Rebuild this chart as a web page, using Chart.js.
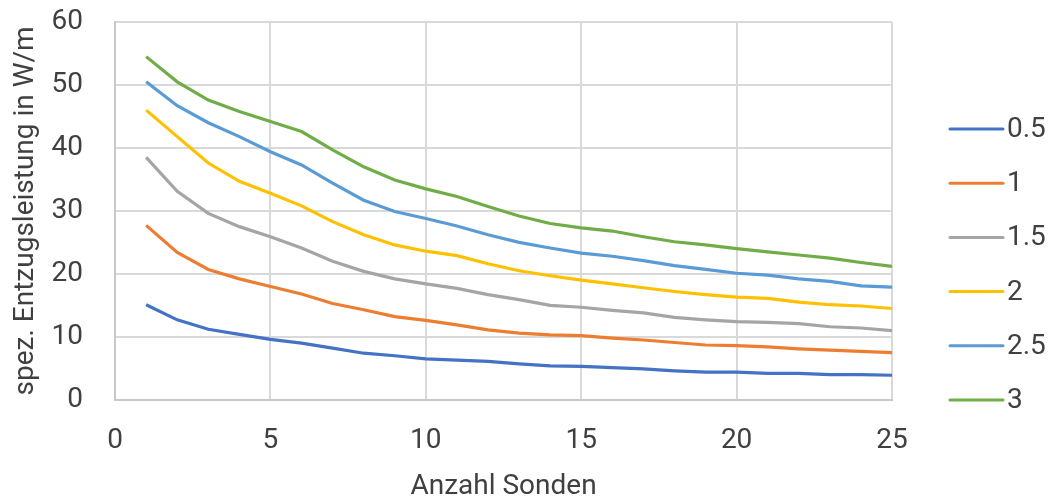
<!DOCTYPE html>
<html>
<head>
<meta charset="utf-8">
<script src="https://cdn.jsdelivr.net/npm/chart.js@4"></script>
<style>
  html, body { margin: 0; padding: 0; background: #fff; }
  #wrap { width: 1056px; height: 504px; }
</style>
</head>
<body>
<div id="wrap"><canvas id="myChart" width="1056" height="504"></canvas></div>
<script>
const sonden = [1,2,3,4,5,6,7,8,9,10,11,12,13,14,15,16,17,18,19,20,21,22,23,24,25];
const seriesNames = ['0.5','1','1.5','2','2.5','3'];
const s05 = [15.1,12.7,11.2,10.4,9.6,9.0,8.2,7.4,7.0,6.5,6.3,6.1,5.7,5.4,5.3,5.1,4.9,4.6,4.4,4.4,4.2,4.2,4.0,4.0,3.9];
const s10 = [27.7,23.4,20.7,19.2,18.0,16.8,15.3,14.3,13.2,12.6,11.9,11.1,10.6,10.3,10.2,9.8,9.5,9.1,8.7,8.6,8.4,8.1,7.9,7.7,7.5];
const s15 = [38.5,33.1,29.6,27.5,25.9,24.1,22.0,20.4,19.2,18.4,17.7,16.7,15.9,15.0,14.7,14.2,13.8,13.1,12.7,12.4,12.3,12.1,11.6,11.4,11.0];
const s20 = [46.0,41.8,37.6,34.7,32.8,30.8,28.3,26.2,24.6,23.6,22.9,21.6,20.5,19.7,19.0,18.4,17.8,17.2,16.7,16.3,16.1,15.5,15.1,14.9,14.5];
const s25 = [50.5,46.7,44.0,41.8,39.4,37.3,34.4,31.7,29.9,28.8,27.6,26.2,25.0,24.1,23.3,22.8,22.1,21.3,20.7,20.1,19.8,19.2,18.8,18.1,17.9];
const s30 = [54.5,50.5,47.6,45.8,44.2,42.6,39.7,37.0,34.9,33.5,32.3,30.7,29.2,28.0,27.3,26.8,25.9,25.1,24.6,24.0,23.5,23.0,22.5,21.8,21.2];
const colors = ['#4472C4','#ED7D31','#A5A5A5','#FFC000','#5B9BD5','#70AD47'];
const allSeries = [s05,s10,s15,s20,s25,s30];

const fontFam = 'Roboto, "DejaVu Sans", sans-serif';
const textCol = '#404040';
const gridCol = '#d9d9d9';

// legend drawn by hand so the line/text spacing matches Excel
const sideLegend = {
  id: 'sideLegend',
  afterDraw(chart) {
    const c = chart.ctx;
    const x0 = 950, lineLen = 53, gap = 4;
    const step = 54.2, y0 = 129;
    c.save();
    c.font = '28px ' + fontFam;
    c.textBaseline = 'middle';
    c.textAlign = 'left';
    chart.data.datasets.forEach((ds, i) => {
      const y = y0 + i * step;
      c.strokeStyle = ds.borderColor;
      c.lineWidth = 3;
      c.lineCap = 'round';
      c.beginPath();
      c.moveTo(x0, y);
      c.lineTo(x0 + lineLen, y);
      c.stroke();
      c.fillStyle = textCol;
      c.fillText(ds.label, x0 + lineLen + gap, y + 1);
    });
    c.restore();
  }
};

const ctx = document.getElementById('myChart');
const chart = new Chart(ctx, {
  type: 'line',
  data: {
    datasets: allSeries.map((vals, i) => ({
      label: seriesNames[i],
      data: vals.map((v, j) => ({x: sonden[j], y: v})),
      borderColor: colors[i],
      backgroundColor: colors[i],
      borderWidth: 3.2,
      pointRadius: 0,
      tension: 0,
      fill: false
    }))
  },
  options: {
    responsive: false,
    animation: false,
    layout: { padding: { top: 22, left: 0, right: 164, bottom: 0 } },
    plugins: {
      tooltip: { enabled: false },
      legend: { display: false }
    },
    scales: {
      x: {
        type: 'linear',
        min: 0,
        max: 25,
        ticks: { stepSize: 5, color: textCol, padding: 24, font: { family: fontFam, size: 28 } },
        grid: { color: gridCol, lineWidth: 2, drawTicks: false },
        border: { color: '#c8c8c8', width: 2 },
        title: { display: true, text: 'Anzahl Sonden', color: textCol, padding: { top: -11, bottom: 0 }, font: { family: fontFam, size: 28 } }
      },
      y: {
        min: 0,
        max: 60,
        ticks: { stepSize: 10, color: textCol, padding: 32, font: { family: fontFam, size: 28 } },
        grid: { color: gridCol, lineWidth: 2, drawTicks: false },
        border: { color: '#c8c8c8', width: 2 },
        title: { display: true, text: 'spez. Entzugsleistung in W/m', color: textCol, padding: { top: 9, bottom: -23 }, font: { family: fontFam, size: 28 } },
        afterFit: (scale) => { scale.paddingTop = 17; }
      }
    }
  },
  plugins: [sideLegend]
});
</script>
</body>
</html>
